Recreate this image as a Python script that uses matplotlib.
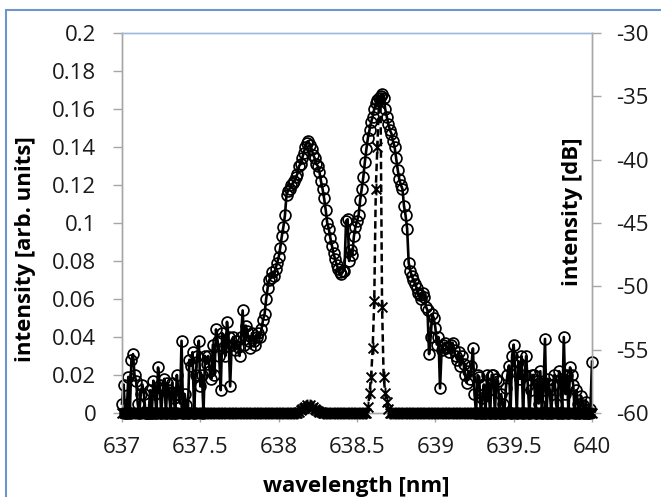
import numpy as np
import matplotlib

matplotlib.use("Agg")
import matplotlib.pyplot as plt  # noqa: E402
from matplotlib.path import Path  # noqa: E402
from matplotlib.patches import Rectangle  # noqa: E402
from matplotlib.ticker import FuncFormatter, MultipleLocator  # noqa: E402

# sampling grid of the spectrometer, 0.01 nm steps
WAVELENGTH = np.round(637.0 + 0.01 * np.arange(301), 2)

# broad spectrum, linear scale (left axis)
INTENSITY_LIN = [
    0.005, 0.015, 0, 0, 0.019, 0, 0.028, 0.031, 0.02, 0.017,
    0.005, 0, 0.01, 0.015, 0.01, 0, 0, 0, 0.012, 0,
    0.017, 0.01, 0, 0.024, 0.015, 0, 0.012, 0.018, 0, 0.016,
    0.012, 0, 0.016, 0.008, 0, 0.02, 0.01, 0.005, 0.038, 0,
    0.01, 0.004, 0, 0.028, 0.025, 0.032, 0, 0.02, 0.03, 0.038,
    0.014, 0.02, 0, 0.03, 0.026, 0.03, 0.022, 0.018, 0.036, 0.02,
    0.044, 0.038, 0.03, 0.012, 0.042, 0.035, 0.03, 0.048, 0.04, 0.014,
    0.036, 0.04, 0.033, 0.038, 0.035, 0.03, 0.04, 0.054, 0.036, 0.046,
    0.043, 0.038, 0.034, 0.042, 0.038, 0.036, 0.04, 0.042, 0.04, 0.044,
    0.049, 0.052, 0.06, 0.066, 0.07, 0.071, 0.074, 0.072, 0.076, 0.079,
    0.082, 0.087, 0.093, 0.098, 0.104, 0.115, 0.117, 0.118, 0.12, 0.121,
    0.122, 0.124, 0.126, 0.13, 0.131, 0.134, 0.137, 0.14, 0.142, 0.143,
    0.141, 0.139, 0.136, 0.134, 0.131, 0.13, 0.127, 0.122, 0.118, 0.113,
    0.107, 0.1, 0.097, 0.092, 0.088, 0.084, 0.081, 0.078, 0.076, 0.074,
    0.073, 0.075, 0.075, 0.101, 0.102, 0.08, 0.086, 0.083, 0.093, 0.098,
    0.101, 0.104, 0.112, 0.118, 0.124, 0.132, 0.139, 0.145, 0.149, 0.153,
    0.156, 0.16, 0.163, 0.165, 0.166, 0.167, 0.168, 0.166, 0.16, 0.156,
    0.152, 0.149, 0.147, 0.143, 0.14, 0.134, 0.128, 0.123, 0.12, 0.118,
    0.109, 0.104, 0.097, 0.079, 0.075, 0.072, 0.07, 0.068, 0.066, 0.063,
    0.062, 0.06, 0.063, 0.061, 0.056, 0.054, 0.031, 0.04, 0.052, 0.05,
    0.045, 0.036, 0.04, 0.013, 0.033, 0.036, 0.037, 0.034, 0.035, 0.032,
    0.036, 0.037, 0.033, 0.03, 0.028, 0.032, 0.025, 0.03, 0.026, 0.02,
    0.016, 0.022, 0.018, 0.025, 0.034, 0.01, 0, 0.02, 0.019, 0,
    0.008, 0.015, 0, 0.02, 0.012, 0, 0.02, 0.02, 0, 0.018,
    0.017, 0, 0.01, 0.005, 0, 0.013, 0.02, 0.025, 0, 0.03,
    0.036, 0.022, 0, 0.027, 0.018, 0.03, 0, 0.02, 0.03, 0.015,
    0, 0.012, 0.02, 0.02, 0, 0.017, 0.005, 0.022, 0, 0.012,
    0.039, 0, 0.018, 0.012, 0, 0.015, 0.02, 0.005, 0, 0.022,
    0.018, 0, 0.04, 0.01, 0.02, 0, 0.024, 0.02, 0.015, 0,
    0.012, 0.005, 0, 0.009, 0.004, 0, 0.006, 0, 0, 0.002,
    0.027,
]

# narrow line, dB scale (right axis), floor at -60 dB
BUMP_DB = [-59.9, -59.8, -59.7, -59.6, -59.5, -59.4, -59.5, -59.4,
           -59.6, -59.5, -59.7, -59.8, -59.85, -59.9, -59.95]
PEAK_DB = [-59.55, -58.4, -57.15, -54.9, -51.15, -42.3, -39.0,
           -35.5, -35.1, -51.6, -57.15, -58.4, -59.1, -59.7]
INTENSITY_DB = [-60.0] * 113 + BUMP_DB + [-60.0] * 29 + PEAK_DB + [-60.0] * 130

X_TICKS = [637, 637.5, 638, 638.5, 639, 639.5, 640]

INK = "black"
AXIS_GREY = "#a6a6a6"
BORDER = "#6f96cc"

plt.rcParams.update({
    "font.family": ["Open Sans", "DejaVu Sans"],
    "font.size": 16,
    "axes.linewidth": 1.0,
})

# Excel-style "star" marker: x with a vertical stroke
STAR = Path([(-1, -1), (1, 1), (-1, 1), (1, -1), (0, -1.2), (0, 1.2)],
            [Path.MOVETO, Path.LINETO, Path.MOVETO, Path.LINETO, Path.MOVETO, Path.LINETO])

fig = plt.figure(figsize=(6.61, 4.97), dpi=100)
ax = fig.add_axes([0.1846, 0.169, 0.711, 0.7646])
ax2 = ax.twinx()

ax.plot(WAVELENGTH, INTENSITY_LIN, color=INK, lw=1.9, marker="o", ms=7.8,
        mfc="none", mec=INK, mew=1.25, clip_on=False, zorder=3)
ax2.plot(WAVELENGTH, INTENSITY_DB, color=INK, lw=1.8, ls=(0, (3, 1.6)),
         marker=STAR, ms=8.5, mec=INK, mew=1.4, clip_on=False, zorder=3)

ax.set_xlim(637, 640)
ax.set_ylim(0, 0.2)
ax2.set_ylim(-60, -30)
ax.set_xticks(X_TICKS)
ax.yaxis.set_major_locator(MultipleLocator(0.02))
ax2.yaxis.set_major_locator(MultipleLocator(5))
ax.xaxis.set_major_formatter(FuncFormatter(lambda v, _: f"{v:g}"))
ax.yaxis.set_major_formatter(FuncFormatter(lambda v, _: f"{round(v, 2):g}"))
ax2.yaxis.set_major_formatter(FuncFormatter(lambda v, _: f"{v:g}"))

for a in (ax, ax2):
    a.tick_params(direction="out", length=6.5, width=1.0, color=AXIS_GREY,
                  labelcolor="#1a1a1a", labelsize=16)
    for side in ("left", "right", "bottom"):
        a.spines[side].set_color(AXIS_GREY)
    a.spines["top"].set_color("#9fb8de")
ax.tick_params(axis="y", pad=12)
ax.tick_params(axis="x", pad=11)
ax2.tick_params(axis="y", pad=11)

ax.set_xlabel("wavelength [nm]", fontweight="bold", fontsize=16)
ax.set_ylabel("intensity [arb. units]", fontweight="bold", fontsize=16)
ax2.set_ylabel("intensity [dB]", fontweight="bold", fontsize=16)
ax.xaxis.set_label_coords(0.499, -0.165)
ax.yaxis.set_label_coords(-0.183, 0.43)
ax2.yaxis.set_label_coords(0.936, 0.53)

fig.patches.append(Rectangle((0.009, -0.1), 1.2, 1.08, transform=fig.transFigure,
                             fill=False, edgecolor=BORDER, lw=1.5))

fig.savefig("out.png", dpi=100)
